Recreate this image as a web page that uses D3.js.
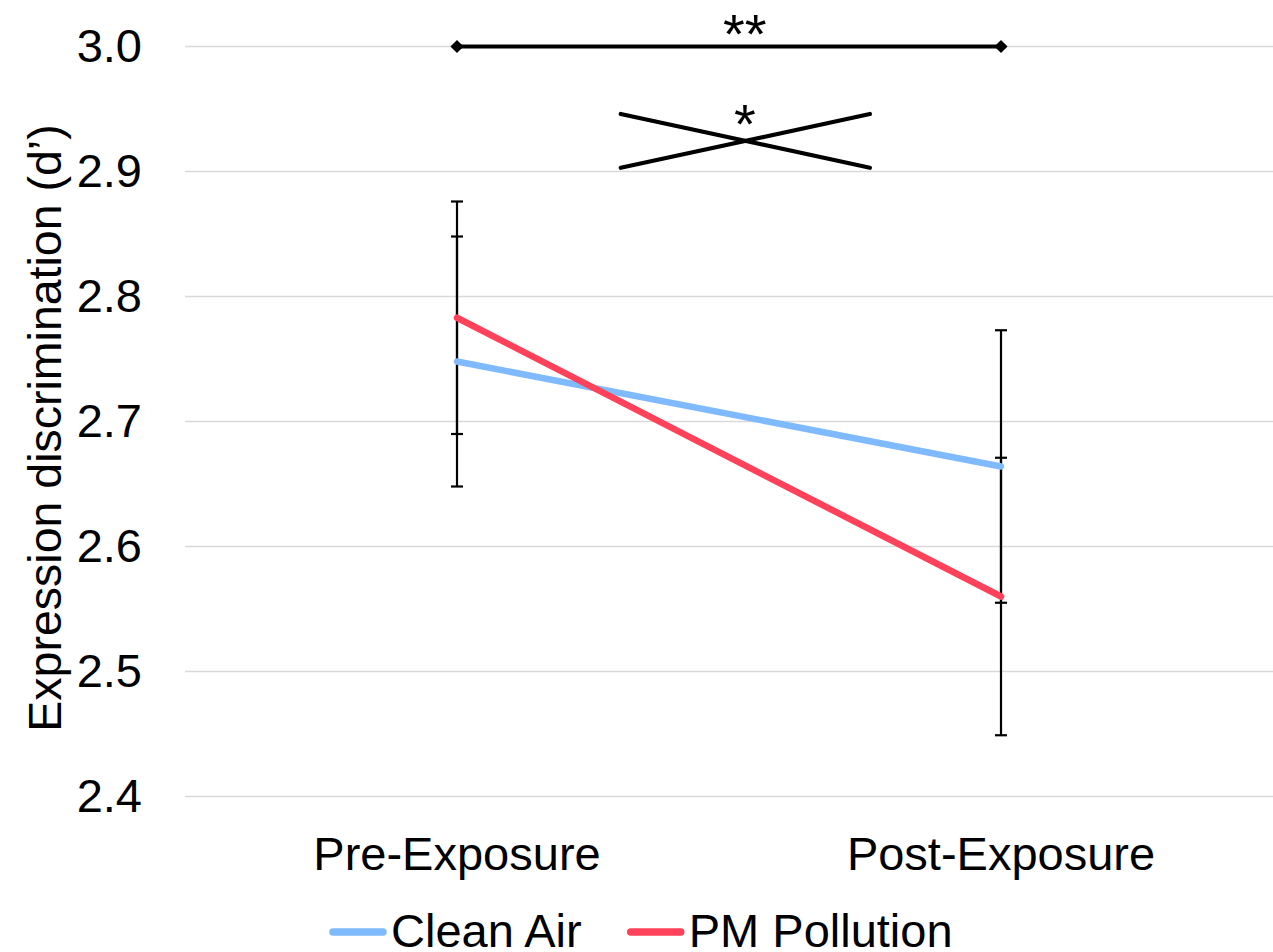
<!DOCTYPE html>
<html lang="en">
<head>
    <meta charset="UTF-8">
    <title>Expression discrimination</title>
    <script src="https://d3js.org/d3.v7.min.js"></script>
    <style>
        body, html {
            margin: 0;
            padding: 0;
            background: #fff;
            overflow: hidden;
        }
        svg {
            display: block;
            font-family: "Liberation Sans", Arial, sans-serif;
        }
    </style>
</head>
<body>
    <svg></svg>
    <script>
        const width = 1273, height = 952;

        // Data
        const categories = ["Pre-Exposure", "Post-Exposure"];
        const seriesNames = ["Clean Air", "PM Pollution"];
        const seriesColors = ["#7fbaff", "#ff4159"];
        const cleanAir = [2.748, 2.664];
        const cleanAirErr = [0.100, 0.109];
        const pmPollution = [2.783, 2.560];
        const pmPollutionErr = [0.093, 0.111];
        const yTicks = [2.4, 2.5, 2.6, 2.7, 2.8, 2.9, 3.0];

        // Significance marks (x in category-index units, y in d')
        const barEnds = [0, 1];
        const barValue = 3.0;
        const barLabel = "**";
        const crossX = [0.301, 0.759];
        const crossY = [2.946, 2.903];
        const labelX = 0.529;
        const crossLabel = "*";

        const margin = { top: 46.5, right: 0, bottom: 155.5, left: 185 };
        const svg = d3.select("svg").attr("width", width).attr("height", height);

        const x = d3.scaleBand().domain(categories).range([margin.left, width - margin.right]);
        const y = d3.scaleLinear().domain([2.4, 3.0]).range([height - margin.bottom, margin.top]);
        // position between the two category centres
        const xi = d3.scaleLinear().domain([0, 1])
            .range([x(categories[0]) + x.bandwidth() / 2, x(categories[1]) + x.bandwidth() / 2]);

        // Gridlines
        svg.append("g")
            .selectAll("line")
            .data(yTicks)
            .enter().append("line")
            .attr("x1", margin.left)
            .attr("x2", width - margin.right)
            .attr("y1", d => y(d))
            .attr("y2", d => y(d))
            .attr("stroke", "#d9d9d9")
            .attr("stroke-width", 1.5);

        // Y axis labels
        const yAxis = d3.axisLeft(y).tickValues(yTicks).tickFormat(d3.format(".1f")).tickSize(0).tickPadding(43);
        const yg = svg.append("g").attr("transform", `translate(${margin.left},0)`).call(yAxis);
        yg.select(".domain").remove();
        yg.selectAll("text").attr("font-size", 47).attr("font-family", "Liberation Sans, Arial, sans-serif").attr("fill", "#000");

        // X axis labels
        const xAxis = d3.axisBottom(x).tickSize(0).tickPadding(40);
        const xg = svg.append("g").attr("transform", `translate(0,${height - margin.bottom})`).call(xAxis);
        xg.select(".domain").remove();
        xg.selectAll("text").attr("font-size", 47).attr("font-family", "Liberation Sans, Arial, sans-serif").attr("fill", "#000");

        // Y axis title
        svg.append("text")
            .attr("transform", `translate(61,428) rotate(-90)`)
            .attr("text-anchor", "middle")
            .attr("font-size", 46.5)
            .text("Expression discrimination (d\u2019)");

        const series = [
            { name: seriesNames[0], color: seriesColors[0], values: cleanAir, err: cleanAirErr },
            { name: seriesNames[1], color: seriesColors[1], values: pmPollution, err: pmPollutionErr }
        ];
        const cx = c => x(c) + x.bandwidth() / 2;

        // Error bars
        series.forEach(s => {
            const g = svg.append("g").attr("stroke", "#000").attr("stroke-width", 2.2);
            categories.forEach((c, i) => {
                const lo = s.values[i] - s.err[i], hi = s.values[i] + s.err[i];
                g.append("line").attr("x1", cx(c)).attr("x2", cx(c)).attr("y1", y(lo)).attr("y2", y(hi));
                [lo, hi].forEach(v => {
                    g.append("line").attr("x1", cx(c) - 6).attr("x2", cx(c) + 6).attr("y1", y(v)).attr("y2", y(v));
                });
            });
        });

        // Series lines
        const line = d3.line().x((d, i) => cx(categories[i])).y(d => y(d));
        series.forEach(s => {
            svg.append("path")
                .datum(s.values)
                .attr("d", line)
                .attr("fill", "none")
                .attr("stroke", s.color)
                .attr("stroke-width", 6.5)
                .attr("stroke-linecap", "round");
        });

        // Significance bar with diamond ends
        svg.append("line")
            .attr("x1", xi(barEnds[0])).attr("x2", xi(barEnds[1]))
            .attr("y1", y(barValue)).attr("y2", y(barValue))
            .attr("stroke", "#000").attr("stroke-width", 4);
        svg.append("g")
            .selectAll("path")
            .data(barEnds)
            .enter().append("path")
            .attr("d", d3.symbol().type(d3.symbolDiamond2).size(110))
            .attr("transform", d => `translate(${xi(d)},${y(barValue)})`)
            .attr("fill", "#000");
        svg.append("text")
            .attr("x", xi(labelX)).attr("y", y(barValue) + 6)
            .attr("text-anchor", "middle")
            .attr("font-size", 56)
            .text(barLabel);

        // Interaction cross
        [[crossY[0], crossY[1]], [crossY[1], crossY[0]]].forEach(([a, b]) => {
            svg.append("line")
                .attr("x1", xi(crossX[0])).attr("x2", xi(crossX[1]))
                .attr("y1", y(a)).attr("y2", y(b))
                .attr("stroke", "#000").attr("stroke-width", 4.2)
                .attr("stroke-linecap", "round");
        });
        svg.append("text")
            .attr("x", xi(labelX)).attr("y", y((crossY[0] + crossY[1]) / 2) + 2)
            .attr("text-anchor", "middle")
            .attr("font-size", 56)
            .text(crossLabel);

        // Legend
        const legend = svg.append("g").attr("transform", "translate(329,932)");
        let lx = 0;
        series.forEach(s => {
            legend.append("line")
                .attr("x1", lx + 4).attr("x2", lx + 54)
                .attr("y1", 0).attr("y2", 0)
                .attr("stroke", s.color).attr("stroke-width", 7.5)
                .attr("stroke-linecap", "round");
            const t = legend.append("text")
                .attr("x", lx + 62).attr("y", 15)
                .attr("font-size", 47)
                .text(s.name);
            lx += 62 + t.node().getComputedTextLength() + 45;
        });
    </script>
</body>
</html>
